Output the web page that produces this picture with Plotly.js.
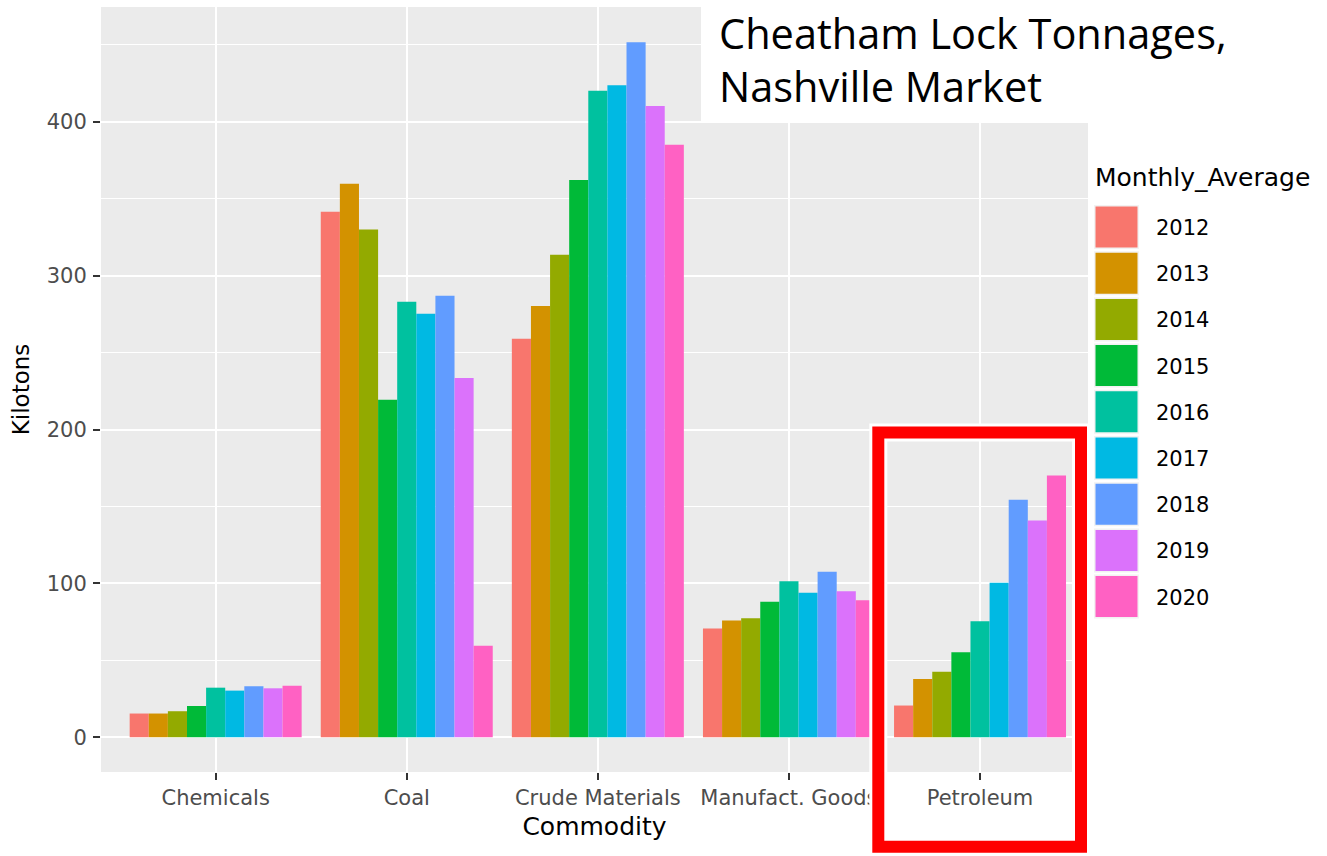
<!DOCTYPE html>
<html>
<head>
<meta charset="utf-8">
<script src="https://cdn.plot.ly/plotly-3.0.1.min.js"></script>
<style>html,body{margin:0;padding:0;background:#fff;}#chart{width:1327px;height:856px;}</style>
</head>
<body>
<div id="chart"></div>
<script>
// ---- data ----
const commodities = ["Chemicals", "Coal", "Crude Materials", "Manufact. Goods", "Petroleum"];
const years = ["2012", "2013", "2014", "2015", "2016", "2017", "2018", "2019", "2020"];
const chemicals = [15.4, 15.4, 16.9, 20.3, 32.2, 30.3, 33.1, 31.8, 33.5];
const coal = [341.5, 359.8, 330.0, 219.3, 283.1, 275.3, 287.0, 233.5, 59.4];
const crudeMaterials = [259.0, 280.3, 313.6, 362.1, 420.1, 423.8, 451.7, 410.2, 385.1];
const manufactGoods = [70.6, 75.8, 77.3, 88.1, 101.3, 93.9, 107.6, 94.8, 89.0];
const petroleum = [20.6, 37.9, 42.6, 55.2, 75.3, 100.4, 154.4, 140.9, 170.1];
const yearColors = ["#F8766D", "#D39200", "#93AA00", "#00BA38", "#00C19F", "#00B9E3", "#619CFF", "#DB72FB", "#FF61C3"];
const yTicks = [0, 100, 200, 300, 400];
const titleLines = ["Cheatham Lock Tonnages,", "Nashville Market"];
const legendTitle = "Monthly_Average";
const xTitle = "Commodity";
const yTitle = "Kilotons";

const byCommodity = [chemicals, coal, crudeMaterials, manufactGoods, petroleum];

// ---- geometry helpers (pixel -> paper) ----
const W = 1327, H = 856;
const M = {l: 101, r: W - 1088, t: 7, b: H - 772};
const PW = W - M.l - M.r, PH = H - M.t - M.b;
const px = x => (x - M.l) / PW;
const py = y => (H - M.b - y) / PH;

const traces = years.map((yr, i) => ({
  type: "bar",
  name: yr,
  x: commodities,
  y: byCommodity.map(arr => arr[i]),
  marker: {color: yearColors[i], line: {width: 0}},
  showlegend: false,
  hoverinfo: "x+y+name"
}));

const shapes = [];
const annotations = [];

// white box behind title
shapes.push({type: "rect", xref: "paper", yref: "paper", layer: "above",
  x0: px(701), x1: px(1095), y0: py(122), y1: py(-2),
  fillcolor: "#FFFFFF", line: {width: 0}});

// red highlight box (white halo + red stroke)
const rb = {x0: 878.3, x1: 1081, y0: 432.5, y1: 846.7};
shapes.push({type: "rect", xref: "paper", yref: "paper", layer: "above",
  x0: px(rb.x0), x1: px(rb.x1), y0: py(rb.y1), y1: py(rb.y0),
  fillcolor: "rgba(0,0,0,0)", line: {color: "#FFFFFF", width: 18}});
shapes.push({type: "rect", xref: "paper", yref: "paper", layer: "above",
  x0: px(rb.x0), x1: px(rb.x1), y0: py(rb.y1), y1: py(rb.y0),
  fillcolor: "rgba(0,0,0,0)", line: {color: "#FF0000", width: 12}});

// custom legend (ggplot-style keys)
const keyTop0 = 205, keyStep = 46.2, keyH = 44, keyX0 = 1094, keyX1 = 1139;
years.forEach((yr, i) => {
  const t = keyTop0 + keyStep * i;
  shapes.push({type: "rect", xref: "paper", yref: "paper", layer: "above",
    x0: px(keyX0), x1: px(keyX1), y0: py(t + keyH), y1: py(t),
    fillcolor: "#F2F2F2", line: {width: 0}});
  shapes.push({type: "rect", xref: "paper", yref: "paper", layer: "above",
    x0: px(keyX0 + 1.5), x1: px(keyX1 - 1.5), y0: py(t + keyH - 1.5), y1: py(t + 1.5),
    fillcolor: yearColors[i], line: {width: 0}});
  annotations.push({xref: "paper", yref: "paper", x: px(1154), y: py(t + keyH / 2 + 1),
    xanchor: "left", yanchor: "middle", showarrow: false, text: yr,
    font: {family: "DejaVu Sans", size: 21, color: "#000000"}});
});
annotations.push({xref: "paper", yref: "paper", x: px(1093), y: py(177),
  xanchor: "left", yanchor: "middle", showarrow: false, text: legendTitle,
  font: {family: "DejaVu Sans", size: 25, color: "#000000"}});

// title lines
annotations.push({xref: "paper", yref: "paper", x: px(717), y: py(33),
  xanchor: "left", yanchor: "middle", showarrow: false, text: titleLines[0],
  font: {family: "Open Sans", size: 41.5, color: "#000000"}});
annotations.push({xref: "paper", yref: "paper", x: px(717), y: py(86),
  xanchor: "left", yanchor: "middle", showarrow: false, text: titleLines[1],
  font: {family: "Open Sans", size: 41.5, color: "#000000"}});

const layout = {
  width: W, height: H,
  margin: M,
  paper_bgcolor: "#FFFFFF",
  plot_bgcolor: "#EBEBEB",
  barmode: "group",
  bargap: 0.1,
  bargroupgap: 0,
  showlegend: false,
  font: {family: "DejaVu Sans", color: "#4D4D4D"},
  xaxis: {
    type: "category",
    range: [-0.6, 4.565],
    showgrid: true, gridcolor: "#FFFFFF", gridwidth: 2,
    zeroline: false, showline: false,
    ticks: "outside", ticklen: 7, tickwidth: 2, tickcolor: "#333333",
    tickfont: {family: "DejaVu Sans", size: 21, color: "#4D4D4D"},
    ticklabelstandoff: 0,
    title: {text: xTitle, standoff: 8, font: {family: "DejaVu Sans", size: 25, color: "#000000"}},
    automargin: false
  },
  yaxis: {
    range: [-22.6, 474.6],
    tickvals: yTicks,
    ticktext: yTicks.map(String),
    showgrid: true, gridcolor: "#FFFFFF", gridwidth: 2,
    minor: {dtick: 50, tick0: 0, showgrid: true, gridcolor: "#FFFFFF", gridwidth: 1, ticklen: 0},
    zeroline: false, showline: false,
    ticks: "outside", ticklen: 7, tickwidth: 2, tickcolor: "#333333",
    tickfont: {family: "DejaVu Sans", size: 21, color: "#4D4D4D"},
    ticklabelstandoff: 2,
    title: {text: yTitle, standoff: 10, font: {family: "DejaVu Sans", size: 23, color: "#000000"}},
    automargin: false
  },
  shapes: shapes,
  annotations: annotations
};

Plotly.newPlot("chart", traces, layout, {staticPlot: true, displayModeBar: false});
</script>
</body>
</html>
